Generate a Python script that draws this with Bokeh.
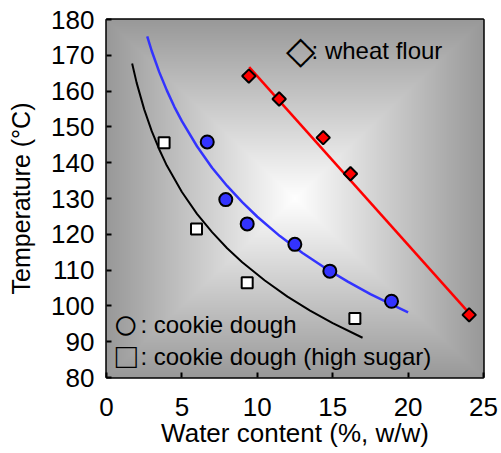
import numpy as np
from bokeh.plotting import figure
from bokeh.models import Range1d, FixedTicker, Label
from bokeh.embed import file_html
from bokeh.resources import INLINE

# ---- data ----
dough_x = [6.68, 7.91, 9.33, 12.49, 14.81, 18.90]
dough_y = [145.8, 129.7, 122.9, 117.2, 109.7, 101.3]

sugar_x = [3.82, 5.97, 9.33, 16.47]
sugar_y = [145.6, 121.5, 106.5, 96.5]

flour_x = [9.44, 11.45, 14.37, 16.18, 24.05]
flour_y = [164.2, 157.8, 147.0, 136.9, 97.5]

# trend curves
dough_fit_x = [2.7, 3.0, 3.5, 4.0, 4.5, 5.0, 6.0, 7.0, 8.0, 9.0, 10.0, 11.5, 13.0, 14.5, 16.0, 17.5, 19.0, 20.0]
dough_fit_y = [175.3, 171.2, 165.3, 160.2, 155.6, 151.6, 144.6, 138.6, 133.5, 129.0, 124.9, 119.5, 114.8, 110.6, 106.8, 103.3, 100.2, 98.2]

sugar_fit_x = [1.7, 2.0, 2.5, 3.0, 3.5, 4.0, 5.0, 6.0, 7.0, 8.0, 9.0, 10.5, 12.0, 13.5, 15.0, 16.98]
sugar_fit_y = [167.7, 162.3, 154.9, 148.8, 143.7, 139.2, 131.8, 125.7, 120.6, 116.1, 112.2, 107.1, 102.6, 98.7, 95.2, 91.1]

flour_fit_x = [9.46, 24.05]
flour_fit_y = [166.7, 98.0]

x_ticks = [0, 5, 10, 15, 20, 25]
y_ticks = [80, 90, 100, 110, 120, 130, 140, 150, 160, 170, 180]

x_title = "Water content (%, w/w)"
y_title = "Temperature (\u00b0C)"

FONT = "Liberation Sans"

p = figure(width=501, height=453, output_backend="svg", toolbar_location=None,
           x_range=Range1d(0, 25), y_range=Range1d(80, 180),
           min_border_left=106, min_border_right=18, min_border_top=19, min_border_bottom=76)

# background: rectangular "from centre" gradient
nx, ny = 377, 358
u = np.abs(np.linspace(-1, 1, nx))[None, :]
v = np.abs(np.linspace(-1, 1, ny))[:, None]
t = np.maximum(u, v)
g = (255 - 102 * t).astype(np.uint32)
img = (255 << 24) | (g << 16) | (g << 8) | g
p.image_rgba(image=[img.astype(np.uint32)], x=0, y=80, dw=25, dh=100)

p.line(flour_fit_x, flour_fit_y, line_color="#ff0000", line_width=2.5)
p.line(dough_fit_x, dough_fit_y, line_color="#3333ff", line_width=2.5)
p.line(sugar_fit_x, sugar_fit_y, line_color="black", line_width=2)

p.scatter(dough_x, dough_y, marker="circle", size=13, fill_color="#3333ff",
          line_color="black", line_width=2)
p.scatter(sugar_x, sugar_y, marker="square", size=11, fill_color="white",
          line_color="black", line_width=2)
p.scatter(flour_x, flour_y, marker="square", angle=np.pi / 4, size=9.5,
          fill_color="#ff0000", line_color="black", line_width=2)

# legend-like annotations: symbol + text
for sym, sx, sy, ssize in [("\u25c7", 12.86, 171.6, "38px"),
                           ("\u25cb", 1.26, 95.2, "44px"),
                           ("\u25a1", 1.31, 86.1, "35px")]:
    p.add_layout(Label(x=sx, y=sy, text=sym, text_font=FONT, text_font_size=ssize,
                       text_align="center", text_baseline="middle", text_color="black"))
for txt, lx, ly in [(": wheat flour", 13.6, 171.3),
                    (": cookie dough", 2.25, 94.8),
                    (": cookie dough (high sugar)", 2.25, 86.0)]:
    p.add_layout(Label(x=lx, y=ly, text=txt, text_font=FONT, text_font_size="24px",
                       text_baseline="middle", text_color="black"))

p.grid.visible = False
p.background_fill_color = None
p.border_fill_color = "white"
p.outline_line_color = "black"
p.outline_line_width = 2.5

p.xaxis.ticker = FixedTicker(ticks=x_ticks)
p.yaxis.ticker = FixedTicker(ticks=y_ticks)
for ax in (p.xaxis[0], p.yaxis[0]):
    ax.axis_line_color = None
    ax.major_tick_in = 5
    ax.major_tick_out = 0
    ax.major_tick_line_width = 2
    ax.minor_tick_line_color = None
    ax.major_label_text_font = FONT
    ax.major_label_text_font_size = "26px"
    ax.major_label_text_color = "black"
    ax.axis_label_text_font = FONT
    ax.axis_label_text_font_style = "normal"
    ax.axis_label_text_color = "black"

p.xaxis.axis_label = x_title
p.xaxis.axis_label_text_font_size = "26px"
p.yaxis.axis_label = y_title
p.yaxis.axis_label_text_font_size = "25px"
p.xaxis.major_label_standoff = 20
p.xaxis.axis_label_standoff = -1
p.yaxis.major_label_standoff = 12
p.yaxis.axis_label_standoff = 13

open("out.html", "w").write(file_html(p, INLINE))
